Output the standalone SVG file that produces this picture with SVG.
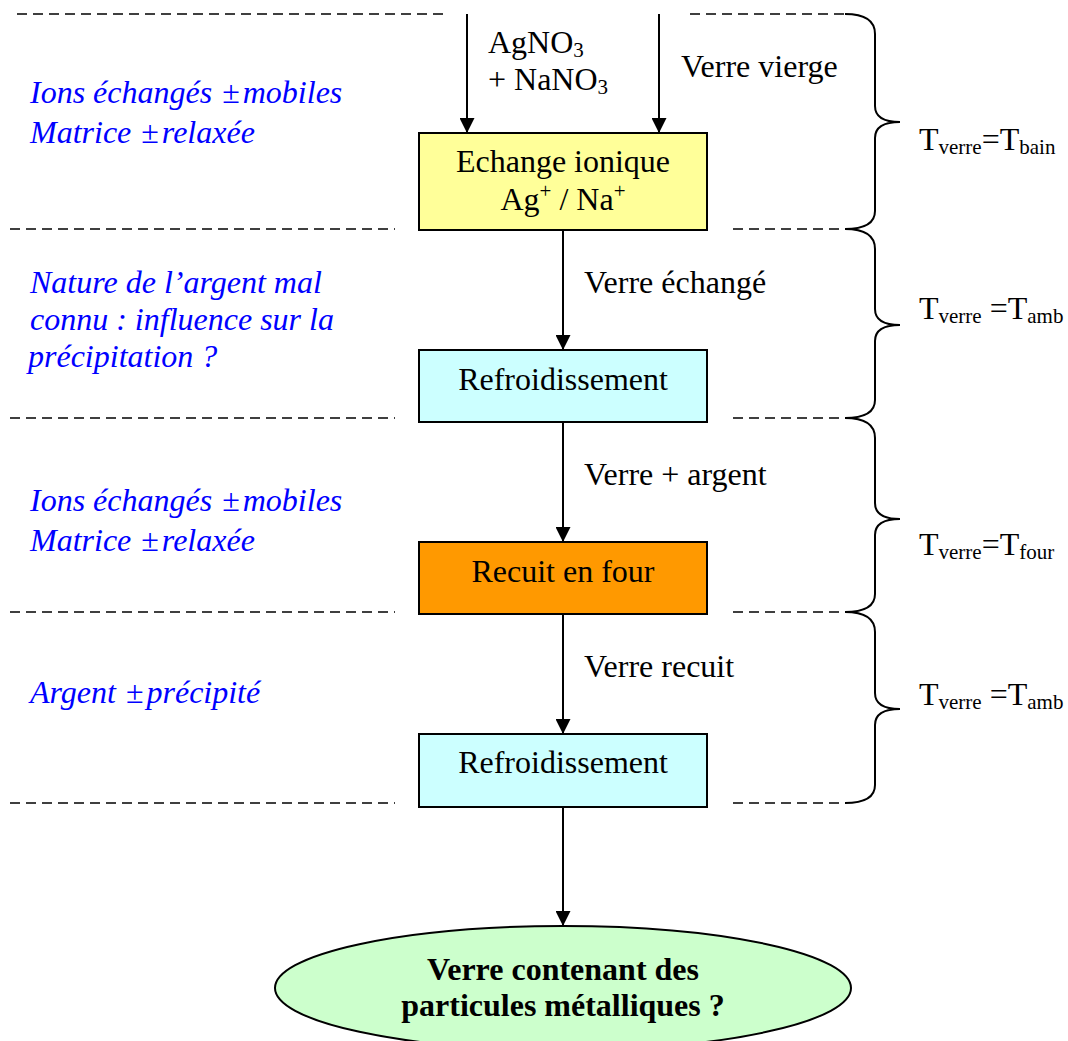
<svg xmlns="http://www.w3.org/2000/svg" width="1068" height="1041" viewBox="0 0 1068 1041">
<style>
text { font-family: "Liberation Serif", "Times New Roman", serif; font-size: 32px; fill: #000; }
.note { font-style: italic; fill: #0000FF; }
.pm { font-style: normal; }
.c { text-anchor: middle; }
.b { font-weight: bold; }
.sub { font-size: 21px; }
.box { stroke: #000; stroke-width: 2; }
.dash { stroke: #000; stroke-width: 1.6; stroke-dasharray: 10 6; fill: none; }
.brace { stroke: #000; stroke-width: 2; fill: none; }
.conn { stroke: #000; stroke-width: 2; fill: none; marker-end: url(#arr); }
</style>
<defs>
<marker id="arr" viewBox="0 0 15 15" markerUnits="userSpaceOnUse" markerWidth="15" markerHeight="15" refX="15" refY="7.5" orient="auto">
<path d="M0,0 L15,7.5 L0,15 z" fill="#000"/>
</marker>
</defs>
<rect width="1068" height="1041" fill="#fff"/>

<g id="separators">
<line class="dash" x1="17" y1="14" x2="445" y2="14"/>
<line class="dash" x1="690" y1="14" x2="845" y2="14"/>
<line class="dash" x1="10" y1="229" x2="395" y2="229"/>
<line class="dash" x1="733" y1="229" x2="845" y2="229"/>
<line class="dash" x1="10" y1="418" x2="395" y2="418"/>
<line class="dash" x1="733" y1="418" x2="845" y2="418"/>
<line class="dash" x1="10" y1="612" x2="395" y2="612"/>
<line class="dash" x1="733" y1="612" x2="845" y2="612"/>
<line class="dash" x1="10" y1="803" x2="395" y2="803"/>
<line class="dash" x1="733" y1="803" x2="845" y2="803"/>
</g>

<g id="braces">
<path class="brace" d="M845 14 C865 14 875 20 875 34 L875 106 C875 117 884 122 900 122 C884 122 875 127 875 138 L875 211 C875 223 865 229 845 229"/>
<path class="brace" d="M845 229 C865 229 875 235 875 249 L875 309 C875 320 884 325 900 325 C884 325 875 330 875 341 L875 400 C875 412 865 418 845 418"/>
<path class="brace" d="M845 418 C865 418 875 424 875 438 L875 503 C875 514 884 519 900 519 C884 519 875 524 875 535 L875 594 C875 606 865 612 845 612"/>
<path class="brace" d="M845 612 C865 612 875 618 875 632 L875 693 C875 704 884 709 900 709 C884 709 875 714 875 725 L875 785 C875 797 865 803 845 803"/>
</g>

<g id="temperatures">
<text x="919" y="150">T<tspan class="sub" dy="4">verre</tspan><tspan dy="-4">=T</tspan><tspan class="sub" dy="4">bain</tspan></text>
<text x="919" y="319">T<tspan class="sub" dy="4">verre</tspan><tspan dy="-4"> =T</tspan><tspan class="sub" dy="4">amb</tspan></text>
<text x="919" y="555">T<tspan class="sub" dy="4">verre</tspan><tspan dy="-4">=T</tspan><tspan class="sub" dy="4">four</tspan></text>
<text x="919" y="705">T<tspan class="sub" dy="4">verre</tspan><tspan dy="-4"> =T</tspan><tspan class="sub" dy="4">amb</tspan></text>
</g>

<g id="notes">
<text class="note" x="30" y="103">Ions échangés <tspan class="pm" dx="2">±</tspan><tspan dx="3">mobiles</tspan></text>
<text class="note" x="30" y="143">Matrice <tspan class="pm" dx="2">±</tspan><tspan dx="3">relaxée</tspan></text>
<text class="note" x="30" y="293">Nature de l’argent mal</text>
<text class="note" x="30" y="330">connu : influence sur la</text>
<text class="note" x="28" y="367">précipitation ?</text>
<text class="note" x="30" y="511">Ions échangés <tspan class="pm" dx="2">±</tspan><tspan dx="3">mobiles</tspan></text>
<text class="note" x="30" y="551">Matrice <tspan class="pm" dx="2">±</tspan><tspan dx="3">relaxée</tspan></text>
<text class="note" x="30" y="703">Argent <tspan class="pm" dx="2">±</tspan><tspan dx="3">précipité</tspan></text>
</g>

<g id="connectors">
<line class="conn" x1="467" y1="14" x2="467" y2="133"/>
<line class="conn" x1="659" y1="14" x2="659" y2="133"/>
<line class="conn" x1="563" y1="230" x2="563" y2="350"/>
<line class="conn" x1="563" y1="422" x2="563" y2="542"/>
<line class="conn" x1="563" y1="614" x2="563" y2="734"/>
<line class="conn" x1="563" y1="807" x2="563" y2="926"/>
<text x="488" y="53">AgNO<tspan class="sub" dy="4">3</tspan></text>
<text x="488" y="90">+ NaNO<tspan class="sub" dy="4">3</tspan></text>
<text x="681" y="77">Verre vierge</text>
<text x="584" y="293">Verre échangé</text>
<text x="584" y="485">Verre + argent</text>
<text x="584" y="677">Verre recuit</text>
</g>

<g id="echange">
<rect class="box" x="419" y="133" width="288" height="97" fill="#FFFF99"/>
<text class="c" x="563" y="172">Echange ionique</text>
<text class="c" x="563" y="210">Ag<tspan class="sub" dy="-12">+</tspan><tspan dy="12"> / Na</tspan><tspan class="sub" dy="-12">+</tspan></text>
</g>

<g id="refroid1">
<rect class="box" x="419" y="350" width="288" height="72" fill="#CCFFFF"/>
<text class="c" x="563" y="390">Refroidissement</text>
</g>

<g id="recuit">
<rect class="box" x="419" y="542" width="288" height="72" fill="#FF9900"/>
<text class="c" x="563" y="582">Recuit en four</text>
</g>

<g id="refroid2">
<rect class="box" x="419" y="734" width="288" height="73" fill="#CCFFFF"/>
<text class="c" x="563" y="773">Refroidissement</text>
</g>

<g id="resultat">
<ellipse cx="563" cy="988" rx="288" ry="62" fill="#CCFFCC" stroke="#000" stroke-width="2"/>
<text class="c b" x="563" y="980">Verre contenant des</text>
<text class="c b" x="563" y="1016">particules métalliques ?</text>
</g>
</svg>
